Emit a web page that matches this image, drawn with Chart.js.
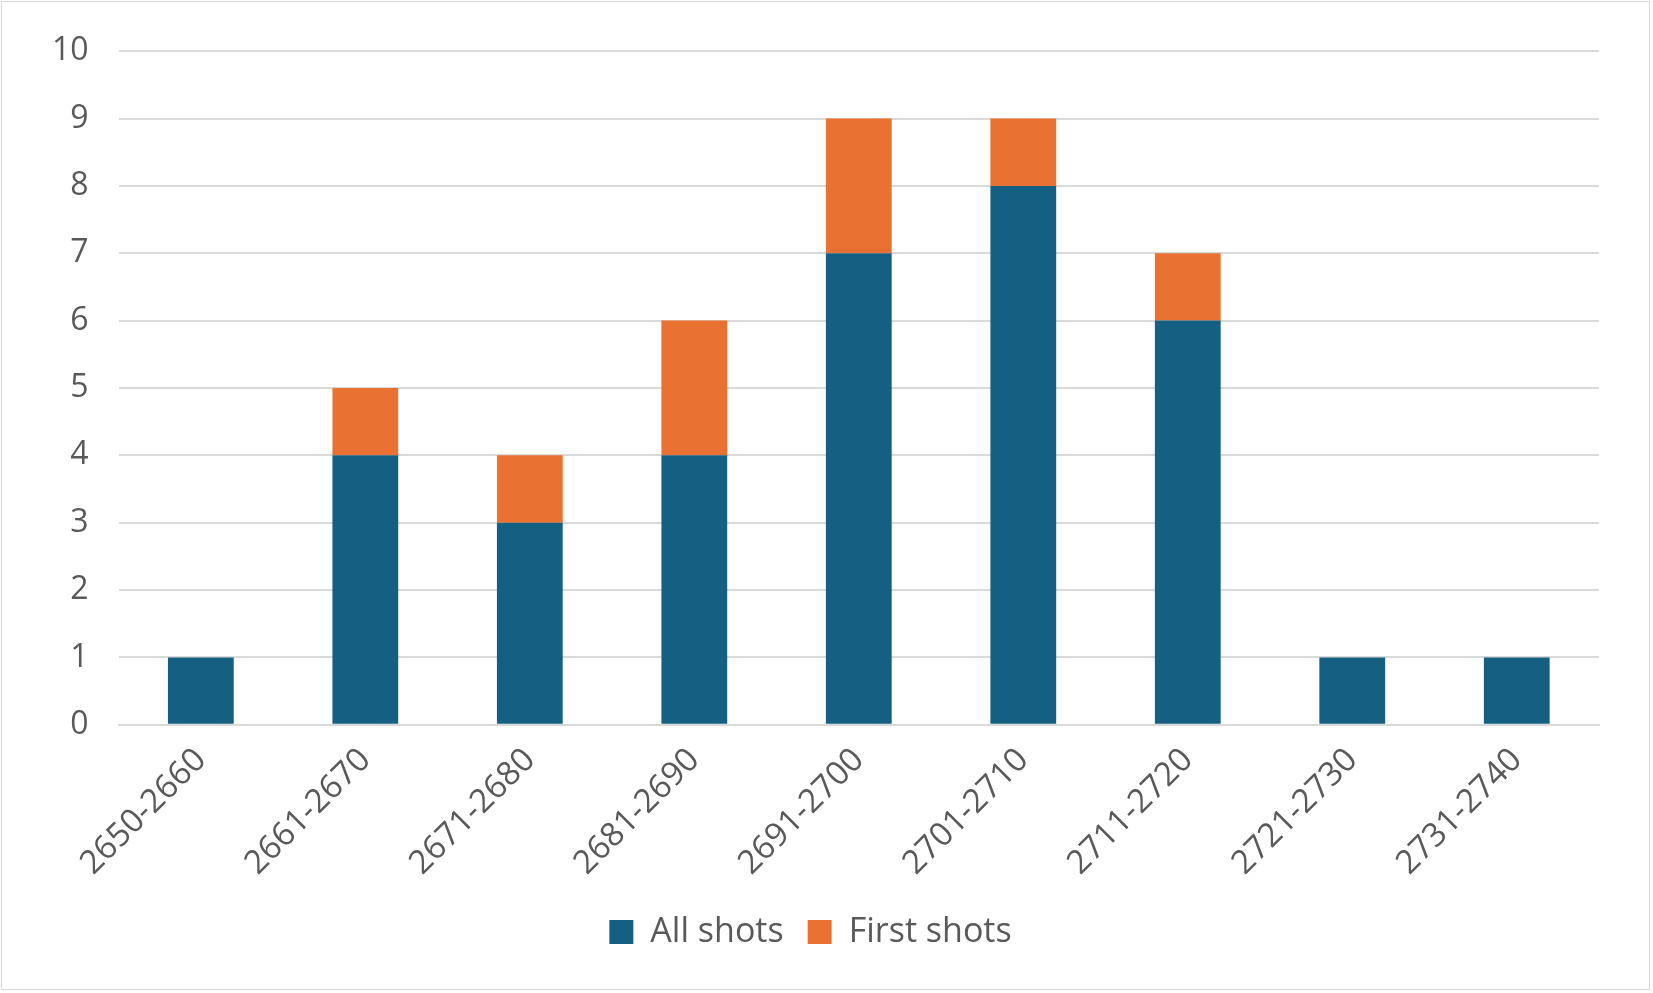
<!DOCTYPE html>
<html>
<head>
<meta charset="utf-8">
<script src="https://cdn.jsdelivr.net/npm/chart.js@4"></script>
<style>
  html, body { margin: 0; padding: 0; background: #fff; }
  #wrap { position: absolute; left: 1px; top: 1px; width: 1649px; height: 989px; border: 1px solid #d9d9d9; box-sizing: border-box; }
</style>
</head>
<body>
<div id="wrap"><canvas id="chart"></canvas></div>
<script>
const categories = ['2650-2660', '2661-2670', '2671-2680', '2681-2690', '2691-2700', '2701-2710', '2711-2720', '2721-2730', '2731-2740'];
const allShots = [1, 4, 3, 4, 7, 8, 6, 1, 1];
const firstShots = [0, 1, 1, 2, 2, 1, 1, 0, 0];

Chart.defaults.font.family = '"Open Sans", Roboto, sans-serif';
Chart.defaults.color = '#595959';

new Chart(document.getElementById('chart'), {
  type: 'bar',
  data: {
    labels: categories,
    datasets: [
      { label: 'All shots', data: allShots, backgroundColor: '#156082', categoryPercentage: 0.4, barPercentage: 1 },
      { label: 'First shots', data: firstShots, backgroundColor: '#e97132', categoryPercentage: 0.4, barPercentage: 1 },
    ],
  },
  options: {
    responsive: true,
    maintainAspectRatio: false,
    animation: false,
    layout: { padding: { left: 20, right: 50, top: 30, bottom: 30 } },
    plugins: {
      legend: {
        position: 'bottom',
        labels: { font: { size: 34 }, boxWidth: 24, boxHeight: 24, padding: 24, color: '#595959' },
      },
      tooltip: { enabled: false },
    },
    scales: {
      x: {
        stacked: true,
        grid: { display: false },
        border: { color: '#d9d9d9', width: 2 },
        ticks: { font: { size: 33 }, maxRotation: 45, minRotation: 45, padding: 8 },
      },
      y: {
        stacked: true,
        min: 0, max: 10,
        border: { display: false },
        grid: { color: '#d9d9d9', lineWidth: 2, drawTicks: false },
        ticks: { stepSize: 1, font: { size: 32 }, padding: 30 },
      },
    },
  },
});
</script>
</body>
</html>
